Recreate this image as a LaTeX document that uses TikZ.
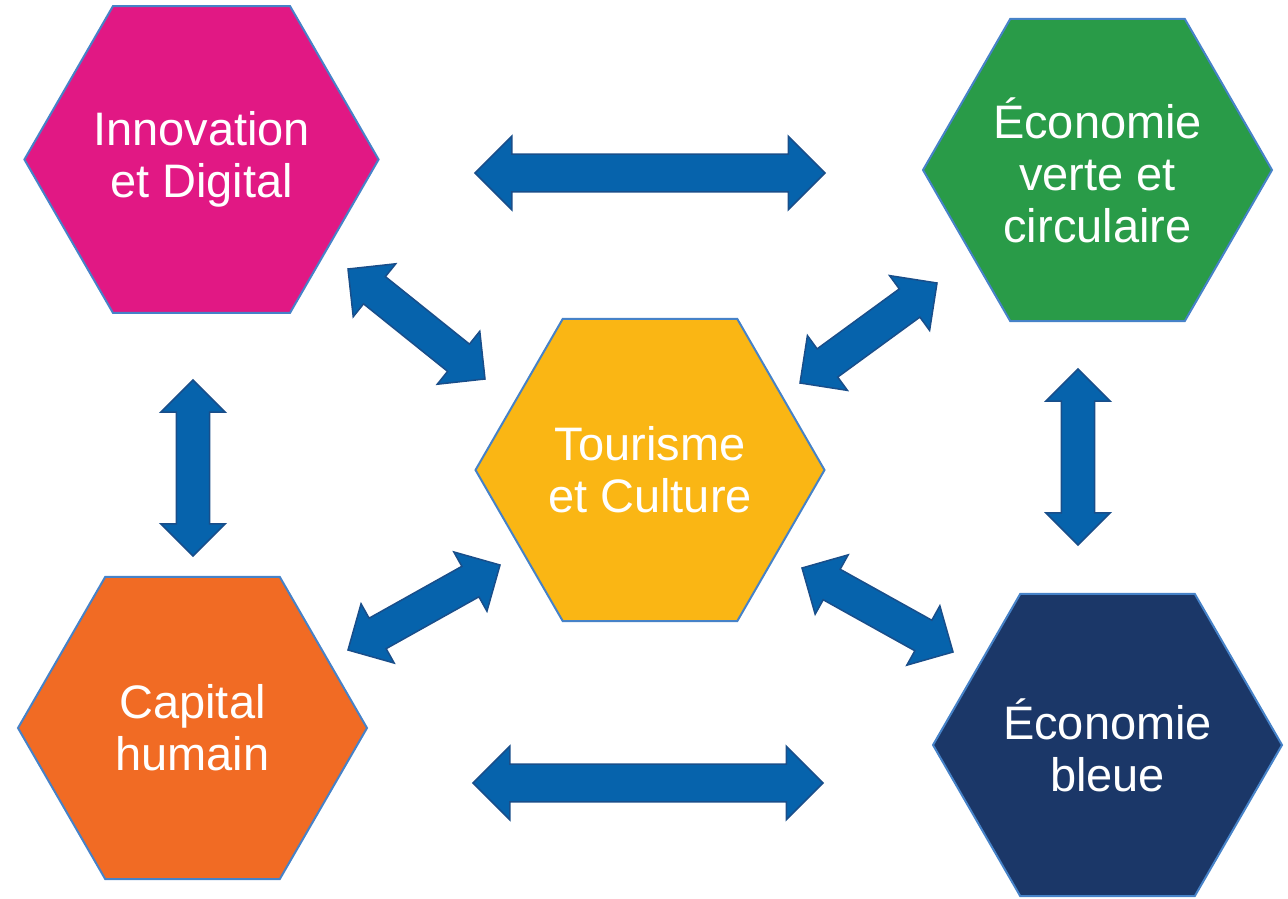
\documentclass[tikz,border=0pt]{standalone}
\usepackage{fontspec}
\setmainfont{Liberation Sans}
\usetikzlibrary{shapes.geometric}
\usetikzlibrary{calc}
\definecolor{hexpink}{RGB}{225,24,132}
\definecolor{hexgreen}{RGB}{41,155,72}
\definecolor{hexgold}{RGB}{250,182,20}
\definecolor{hexorange}{RGB}{241,107,36}
\definecolor{hexnavy}{RGB}{27,55,104}
\definecolor{hexline}{RGB}{70,130,200}
\definecolor{arrowfill}{RGB}{6,99,172}
\definecolor{arrowline}{RGB}{25,78,138}

\tikzset{
  hexa/.style={regular polygon, regular polygon sides=6,
               minimum size=174.5pt, inner sep=0pt, outer sep=0pt,
               draw=hexline, line width=1pt, text=white, align=center,
               font=\fontsize{23.5}{26}\selectfont},
  arrowbox/.style={fill=arrowfill, draw=arrowline, line width=0.75pt}
}

% double block arrow between two named points, #1 scales the tips
\newcommand\dblarrow[3][1]{%
  \pgfmathsetmacro\hl{17.5*#1}%
  \pgfmathsetmacro\hw{17.5*#1}%
  \pgfmathsetmacro\sw{9*#1}%
  \draw[arrowbox] (#2)
    -- ($(#2)!\hl pt!(#3)!\hw pt!90:(#3)$)
    -- ($(#2)!\hl pt!(#3)!\sw pt!90:(#3)$)
    -- ($(#3)!\hl pt!(#2)!\sw pt!-90:(#2)$)
    -- ($(#3)!\hl pt!(#2)!\hw pt!-90:(#2)$)
    -- (#3)
    -- ($(#3)!\hl pt!(#2)!\hw pt!90:(#2)$)
    -- ($(#3)!\hl pt!(#2)!\sw pt!90:(#2)$)
    -- ($(#2)!\hl pt!(#3)!\sw pt!-90:(#3)$)
    -- ($(#2)!\hl pt!(#3)!\hw pt!-90:(#3)$)
    -- cycle;}

\begin{document}
\begin{tikzpicture}[x=0.5pt, y=-0.5pt]
    \useasboundingbox (0,0) rectangle (1288,898);

    % hexagons
    \node[hexa, fill=hexpink]   (innov)   at (201.5,159.5) {Innovation\\et Digital};
    \node[hexa, fill=hexgreen]  (verte)   at (1097.5,170)  {Économie\\verte et\\circulaire};
    \node[hexa, fill=hexgold]   (tourism) at (650,470)     {Tourisme\\et Culture};
    \node[hexa, fill=hexorange] (capital) at (192.5,728)   {Capital\\humain};
    \node[hexa, fill=hexnavy]   (bleue)   at (1107.5,745)  {Économie\\bleue};

    % arrow ends
    \coordinate (top1) at (475,173);   \coordinate (top2) at (825,173);
    \coordinate (bot1) at (473,783);   \coordinate (bot2) at (823,783);
    \coordinate (lft1) at (193,380);   \coordinate (lft2) at (193,556);
    \coordinate (rgt1) at (1078,369);  \coordinate (rgt2) at (1078,545);
    \coordinate (dia1) at (348,269);   \coordinate (dia2) at (485,379);
    \coordinate (dib1) at (937,283);   \coordinate (dib2) at (800,383);
    \coordinate (dic1) at (500,565);   \coordinate (dic2) at (348,650);
    \coordinate (did1) at (802,568);   \coordinate (did2) at (953,652);

    \dblarrow[1.05]{top1}{top2}
    \dblarrow[1.05]{bot1}{bot2}
    \dblarrow[0.92]{lft1}{lft2}
    \dblarrow[0.92]{rgt1}{rgt2}
    \dblarrow[0.97]{dia1}{dia2}
    \dblarrow[0.97]{dib1}{dib2}
    \dblarrow[0.97]{dic1}{dic2}
    \dblarrow[0.97]{did1}{did2}
\end{tikzpicture}
\end{document}
